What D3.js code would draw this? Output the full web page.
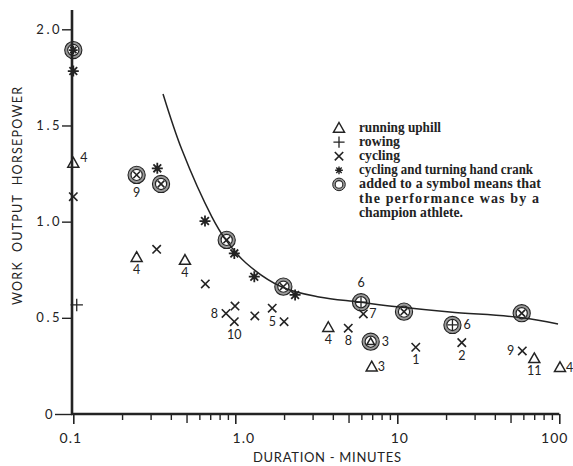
<!DOCTYPE html>
<html><head><meta charset="utf-8">
<script src="https://cdn.jsdelivr.net/npm/d3@7"></script>
<style>
html,body{margin:0;padding:0;background:#fff;}
svg{display:block;}
</style></head>
<body>
<svg id="chart" width="573" height="466"></svg>
<script>
// ---------- DATA ----------
// running uphill (triangles)
const uphillX = [0.1, 0.246, 0.489, 3.75, 6.85, 6.95, 70.1, 101];
const uphillY = [1.305, 0.815, 0.80, 0.451, 0.376, 0.246, 0.289, 0.243];
const uphillChampion = [false, false, false, false, true, false, false, false];
const uphillLabel = ["4", "4", "4", "4", "3", "3", "11", "4"];
const uphillLabelSide = ["ur", "b", "b", "b", "r", "r", "b", "r"];

// rowing (plus)
const rowingX = [0.105, 5.97, 21.9];
const rowingY = [0.567, 0.581, 0.463];
const rowingChampion = [false, true, true];
const rowingLabel = ["", "6", "6"];
const rowingLabelSide = ["", "a", "r"];

// cycling (cross)
const cyclingX = [0.1, 0.246, 0.348, 0.327, 0.653, 0.885, 0.996, 0.876, 0.986, 1.32, 1.69, 2.0, 1.98, 6.17, 11.0, 4.98, 13.0, 25.0, 58.6, 59.1];
const cyclingY = [1.13, 1.243, 1.196, 0.856, 0.676, 0.905, 0.561, 0.523, 0.480, 0.510, 0.550, 0.480, 0.662, 0.520, 0.532, 0.446, 0.347, 0.371, 0.524, 0.328];
const cyclingChampion = [false, true, true, false, false, true, false, false, false, false, false, false, true, false, true, false, false, false, true, false];
const cyclingLabel = ["", "9", "", "", "", "", "", "8", "10", "", "", "5", "", "7", "", "8", "1", "2", "", "9"];
const cyclingLabelSide = ["", "b", "", "", "", "", "", "l", "b", "", "", "l", "", "r", "", "b", "b", "b", "", "l"];

// cycling and turning hand crank (asterisk)
const crankX = [0.1, 0.1, 0.330, 0.650, 0.986, 1.31, 2.34];
const crankY = [1.892, 1.783, 1.277, 1.003, 0.835, 0.714, 0.619];
const crankChampion = [true, false, false, false, false, false, false];

// fitted curve (champion performance)
const curveX = [0.358, 0.469, 0.718, 0.876, 1.164, 1.94, 3.29, 5.80, 10.4, 21.1, 57.2, 98.2];
const curveY = [1.664, 1.372, 1.024, 0.904, 0.785, 0.660, 0.608, 0.582, 0.556, 0.530, 0.502, 0.468];

// axes
const xMajorTicks = [0.1, 1, 10, 100];
const xMajorLabels = ["0.1", "1.0", "10", "100"];
const xMinorTicks = [0.2,0.3,0.4,0.5,0.6,0.7,0.8,0.9,2,3,4,5,6,7,8,9,20,30,40,50,60,70,80,90];
const yTicks = [0, 0.5, 1.0, 1.5, 2.0];
const yTickLabels = ["0", "0.5", "1.0", "1.5", "2.0"];

const legendItems = [
  {sym: "tri", lines: ["running uphill"]},
  {sym: "plus", lines: ["rowing"]},
  {sym: "cross", lines: ["cycling"]},
  {sym: "dot", lines: ["cycling and turning hand crank"]},
  {sym: "champ", lines: ["added to a symbol means that", "the performance was by a", "champion athlete."]}
];
const legendLineWidths = [82, 41, 41, 174, 182, 180, 104];

// ---------- DRAW ----------
const ink = "#232323";
const svg = d3.select("#chart");
const x = d3.scaleLog().domain([0.1, 100]).range([73.3, 559.3]);
const y = d3.scaleLinear().domain([0, 2]).range([414, 29.3]);

const marks = svg.append("g");

function drawSymbol(g, type, s) {
  if (type === "tri") {
    g.append("path").attr("d", `M0,${-s*0.55}L${s*0.55},${s*0.42}L${-s*0.55},${s*0.42}Z`)
      .attr("fill", "none").attr("stroke", ink).attr("stroke-width", 1.5).attr("stroke-linejoin", "miter");
  } else if (type === "plus") {
    const h = s*0.62;
    g.append("path").attr("d", `M${-h},0H${h}M0,${-h}V${h}`).attr("stroke", ink).attr("stroke-width", 1.3);
  } else if (type === "cross") {
    const h = s*0.42;
    g.append("path").attr("d", `M${-h},${-h}L${h},${h}M${-h},${h}L${h},${-h}`).attr("stroke", ink).attr("stroke-width", 1.6);
  } else if (type === "star" || type === "dot") {
    const h = s*0.55;
    let d = "";
    for (let k = 0; k < 4; k++) {
      const a = k*Math.PI/4;
      d += `M${-h*Math.cos(a)},${-h*Math.sin(a)}L${h*Math.cos(a)},${h*Math.sin(a)}`;
    }
    g.append("path").attr("d", d).attr("stroke", ink).attr("stroke-width", type === "dot" ? 1.4 : 1.8);
    g.append("circle").attr("r", s*0.2).attr("fill", ink);
  }
}

function drawChampionRing(g) {
  g.append("circle").attr("r", 7.2).attr("fill", "#fff").attr("stroke", "#9a9a9a").attr("stroke-width", 2.6);
  g.append("circle").attr("r", 8.6).attr("fill", "none").attr("stroke", ink).attr("stroke-width", 1.1);
  g.append("circle").attr("r", 5.6).attr("fill", "none").attr("stroke", ink).attr("stroke-width", 1.2);
}

function labelOffset(side, champ) {
  const r = champ ? 5 : 0;
  switch (side) {
    case "b": return [0, 17 + r, "middle"];
    case "a": return [0, -10 - r, "middle"];
    case "r": return [6 + r, 4.5, "start"];
    case "l": return [-8 - r, 4.5, "end"];
    case "ur": return [7, -1, "start"];
  }
  return [0, 0, "middle"];
}

function plotSeries(xs, ys, champs, type, labels, sides) {
  xs.forEach((xv, i) => {
    const g = marks.append("g").attr("transform", `translate(${x(xv)},${y(ys[i])})`);
    if (champs[i]) {
      drawChampionRing(g);
      drawSymbol(g, type, type === "tri" ? 7 : 8);
    } else {
      drawSymbol(g, type, type === "star" ? 10 : (type === "plus" ? 10 : 10));
    }
    if (labels && labels[i]) {
      const [dx, dy, anchor] = labelOffset(sides[i], champs[i]);
      g.append("text").attr("x", dx).attr("y", dy).attr("text-anchor", anchor)
        .attr("font-family", "Lato, 'Open Sans', sans-serif").attr("font-size", 12.5)
        .attr("fill", ink).text(labels[i]);
    }
  });
}

// curve
const line = d3.line().x(d => x(d[0])).y(d => y(d[1])).curve(d3.curveCatmullRom.alpha(0.5));
svg.append("path").datum(curveX.map((v, i) => [v, curveY[i]]))
  .attr("d", line).attr("fill", "none").attr("stroke", ink).attr("stroke-width", 1.5);

plotSeries(uphillX, uphillY, uphillChampion, "tri", uphillLabel, uphillLabelSide);
plotSeries(rowingX, rowingY, rowingChampion, "plus", rowingLabel, rowingLabelSide);
plotSeries(cyclingX, cyclingY, cyclingChampion, "cross", cyclingLabel, cyclingLabelSide);
plotSeries(crankX, crankY, crankChampion, "star", null, null);

// axes
const axFont = "Lato, 'Open Sans', sans-serif";
const xAxisG = svg.append("g").attr("transform", `translate(0,${y(0)})`)
  .call(d3.axisBottom(x).tickValues(xMajorTicks).tickSize(10).tickPadding(9)
    .tickFormat((d, i) => xMajorLabels[i]));
xAxisG.select(".domain").remove();
xAxisG.selectAll(".tick line").attr("stroke", ink).attr("stroke-width", 1.6);
const xLabelShift = [-3, 8, 2, -5];
xAxisG.selectAll(".tick text").attr("font-family", axFont).attr("font-size", 14)
  .attr("fill", ink).attr("letter-spacing", 1).attr("dx", (d, i) => xLabelShift[i]);

const xMinorG = svg.append("g").attr("transform", `translate(0,${y(0)})`)
  .call(d3.axisBottom(x).tickValues(xMinorTicks).tickSize(6).tickFormat(""));
xMinorG.select(".domain").remove();
xMinorG.selectAll(".tick line").attr("stroke", ink).attr("stroke-width", 1.4)
  .attr("y2", d => (Math.abs(Math.log10(d) - Math.round(Math.log10(d) - 0.7) - 0.699) < 0.01) ? 9 : 6);

const yAxisG = svg.append("g").attr("transform", `translate(72,0)`)
  .call(d3.axisLeft(y).tickValues(yTicks).tickSize(10).tickPadding(2)
    .tickFormat((d, i) => yTickLabels[i]));
yAxisG.select(".domain").remove();
yAxisG.selectAll(".tick line").attr("stroke", ink).attr("stroke-width", 1.4)
  .attr("x2", d => d === 0 ? -17 : -10);
yAxisG.selectAll(".tick text").attr("font-family", axFont).attr("font-size", 13)
  .attr("fill", ink).attr("letter-spacing", 2.5)
  .attr("x", d => d === 0 ? -17 : -10);

// axis lines
svg.append("line").attr("x1", 72).attr("x2", 72).attr("y1", y(2.1)).attr("y2", y(0) + 1)
  .attr("stroke", ink).attr("stroke-width", 2.6);
svg.append("line").attr("x1", 71).attr("x2", x(100)).attr("y1", y(0)).attr("y2", y(0))
  .attr("stroke", ink).attr("stroke-width", 2.6);

// axis titles
svg.append("text").attr("x", 253).attr("y", 462).attr("textLength", 148).attr("lengthAdjust", "spacing")
  .attr("font-family", axFont).attr("font-size", 13).attr("fill", ink).text("DURATION - MINUTES");
svg.append("text").attr("transform", "translate(22,305) rotate(-90)").attr("textLength", 218).attr("lengthAdjust", "spacing")
  .attr("font-family", axFont).attr("font-size", 12.5).attr("fill", ink).attr("xml:space", "preserve")
  .text("WORK  OUTPUT  HORSEPOWER");

// legend
const leg = svg.append("g");
const legFont = "'Liberation Serif', 'DejaVu Serif', serif";
let row = 0;
const rowY = k => 132 + k * 14.1;
legendItems.forEach(item => {
  const cy = rowY(row) - 4;
  const sg = leg.append("g").attr("transform", `translate(339,${cy})`);
  if (item.sym === "champ") {
    sg.append("circle").attr("r", 5.2).attr("fill", "#fff").attr("stroke", "#9a9a9a").attr("stroke-width", 2);
    sg.append("circle").attr("r", 6.3).attr("fill", "none").attr("stroke", ink).attr("stroke-width", 1);
    sg.append("circle").attr("r", 3.8).attr("fill", "none").attr("stroke", ink).attr("stroke-width", 1.1);
  } else {
    drawSymbol(sg, item.sym, item.sym === "dot" ? 7 : (item.sym === "plus" ? 9 : 10));
  }
  item.lines.forEach((t, j) => {
    leg.append("text").attr("x", 359).attr("y", rowY(row))
      .attr("font-family", legFont).attr("font-size", 14).attr("font-weight", "bold")
      .attr("fill", ink).attr("textLength", legendLineWidths[row])
      .attr("lengthAdjust", item.lines.length > 1 && j < item.lines.length - 1 ? "spacing" : "spacingAndGlyphs")
      .text(t);
    row++;
  });
});
</script>
</body></html>
